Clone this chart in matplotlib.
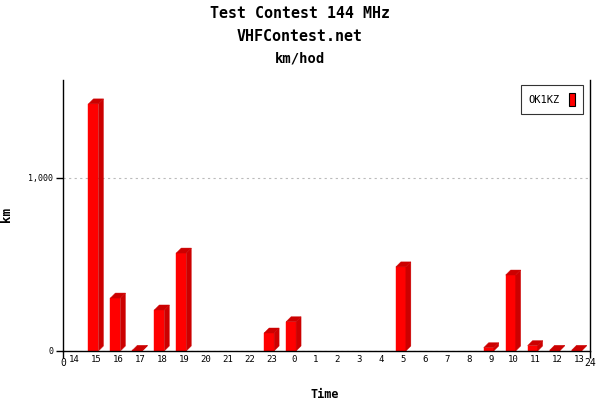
import matplotlib
matplotlib.use("Agg")
import matplotlib.pyplot as plt
from matplotlib.patches import Polygon, Patch

categories = ['14', '15', '16', '17', '18', '19', '20', '21', '22', '23', '0', '1',
              '2', '3', '4', '5', '6', '7', '8', '9', '10', '11', '12', '13']
values = [0, 1428, 306, 4, 237, 566, 0, 0, 0, 104, 169, 0,
          0, 0, 0, 486, 0, 0, 0, 19, 439, 31, 4, 4]
series_name = 'OK1KZ'
titles = ['Test Contest 144 MHz', 'VHFContest.net', 'km/hod']

FONT = 'DejaVu Sans Mono'
plt.rcParams['font.family'] = [FONT, 'DejaVu Sans']

fig = plt.figure(figsize=(6, 4), dpi=100)
ax = fig.add_axes([63/600, 1-351/400, 527/600, 271/400])

ymax = 1566
ax.set_xlim(0, 24)
ax.set_ylim(0, ymax)

# pixel -> data conversion for 3D effect
px_x = 24 / 527.0
px_y = ymax / 271.0
w = 10 * px_x
dx = 5 * px_x
dy = 5 * px_y
front = '#FF0000'
dark = '#CC0000'

for i, v in enumerate(values):
    if v <= 0:
        continue
    c = i + 0.5
    x0 = c - (w + dx) / 2
    x1 = x0 + w
    ax.add_patch(Polygon([(x0, 0), (x1, 0), (x1, v), (x0, v)], closed=True,
                         facecolor=front, edgecolor=front, linewidth=0.3, zorder=3))
    ax.add_patch(Polygon([(x1, 0), (x1 + dx, dy), (x1 + dx, v + dy), (x1, v)], closed=True,
                         facecolor=dark, edgecolor=dark, linewidth=0.3, zorder=3))
    ax.add_patch(Polygon([(x0, v), (x1, v), (x1 + dx, v + dy), (x0 + dx, v + dy)], closed=True,
                         facecolor=dark, edgecolor=dark, linewidth=0.3, zorder=3))

# axes styling
ax.spines['top'].set_visible(False)
for s in ['left', 'bottom', 'right']:
    ax.spines[s].set_color('black')
    ax.spines[s].set_linewidth(1.0)
    ax.spines[s].set_zorder(4)

ax.set_yticks([0, 1000])
ax.set_yticklabels(['0', '1,000'], fontsize=6)
ax.tick_params(axis='y', direction='out', length=5, width=1, pad=2)
ax.yaxis.grid(True, linestyle=(0, (2, 3)), color='#bbbbbb', linewidth=0.8)
ax.set_axisbelow(True)

ax.set_xticks([0, 24])
ax.set_xticklabels(['0', '24'], fontsize=7)
ax.tick_params(axis='x', which='major', direction='out', length=5, width=1, pad=0)
ax.set_xticks([i + 0.5 for i in range(len(categories))], minor=True)
ax.set_xticklabels(categories, minor=True, fontsize=6.5)
ax.tick_params(axis='x', which='minor', length=0, pad=3)

ax.set_xlabel('Time', fontsize=8.5, fontweight='bold')
ax.xaxis.set_label_coords((325 - 63) / 527, -(388 - 351) / 271)
ax.set_ylabel('km', fontsize=9, fontweight='bold')
ax.yaxis.set_label_coords(-(63 - 13) / 527, (351 - 215) / 271)

for k, t in enumerate(titles):
    fig.text(0.5, 1 - (14 + k * 22.5) / 400, t, ha='center', va='center',
             fontsize=10.8 if k < 2 else 10, fontweight='bold')

handle = Patch(facecolor=front, edgecolor='black', linewidth=0.8)
leg = ax.legend([handle], [series_name], loc='upper right', markerfirst=False,
                bbox_to_anchor=(1 - 7/527, 1 - 5/271), fontsize=7.5,
                frameon=True, fancybox=False, handlelength=0.5, handleheight=1.5,
                handletextpad=0.9, borderpad=0.8, borderaxespad=0)
leg.get_frame().set_edgecolor('black')
leg.get_frame().set_linewidth(0.8)
leg._legend_box.sep = 0
leg.get_frame().set_boxstyle('square', pad=0)
# extra left padding to match reference box width
leg._legend_handle_box.get_children()[0].pad = 0

fig.canvas.draw()
bb = leg.get_window_extent()
frame = leg.get_frame()
extra = max(0, 65 - bb.width)
frame.set_x(frame.get_x() - extra)
frame.set_width(frame.get_width() + extra)
fig.savefig('out.png', dpi=100)
